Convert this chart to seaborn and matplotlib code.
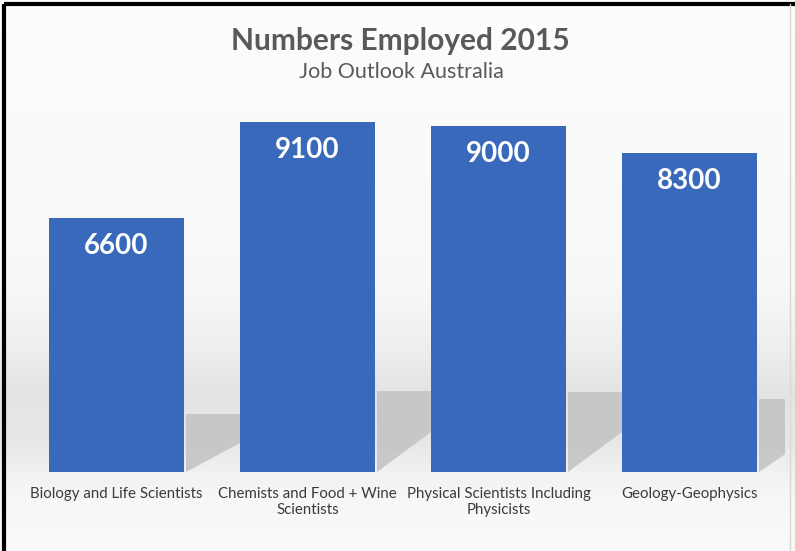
import numpy as np
import pandas as pd
import matplotlib
matplotlib.use("Agg")
import matplotlib.pyplot as plt
from matplotlib.patches import Polygon
import seaborn as sns

categories = ["Biology and Life Scientists",
              "Chemists and Food + Wine\nScientists",
              "Physical Scientists Including\nPhysicists",
              "Geology-Geophysics"]
values = [6600, 9100, 9000, 8300]
title = "Numbers Employed 2015"
subtitle = "Job Outlook Australia"

sns.set_style("white")
plt.rcParams['font.family'] = ['Lato', 'DejaVu Sans']

W, H = 795, 551
fig = plt.figure(figsize=(W / 100, H / 100), dpi=100)

# background gradient
bg = fig.add_axes([0, 0, 1, 1], zorder=-2)
ys = np.arange(H)
knots_y = [0, 280, 340, 390, 440, 475, 500, 551]
knots_v = [0.99, 0.975, 0.94, 0.895, 0.905, 0.95, 0.97, 0.98]
prof = np.interp(ys, knots_y, knots_v)
img = np.repeat(prof[:, None], W, axis=1)
bg.imshow(np.dstack([img, img, img]), aspect='auto', extent=[0, W, H, 0])
bg.set_xlim(0, W)
bg.set_ylim(H, 0)
bg.axis('off')
# frame lines
bg.plot([4, 4], [4, H], color='black', lw=3, solid_capstyle='butt')
bg.plot([4, W], [4, 4], color='black', lw=3, solid_capstyle='butt')
bg.plot([790, 790], [4, H], color='#d8d8d8', lw=1)

ax_b = (H - 472) / H
ax_h = 384.8 / H
ax = fig.add_axes([21 / W, ax_b, 764 / W, ax_h])
ax.set_facecolor('none')

df = pd.DataFrame({"cat": categories, "val": values})
bw = 0.71
sns.barplot(data=df, x="cat", y="val", color="#3869BA", saturation=1,
            width=bw, ax=ax, zorder=3, linewidth=0, edgecolor='none')

ax.set_xlim(-0.5, 3.5)
ax.set_ylim(0, 10000)

# shadows
for i, v in enumerate(values):
    r = i + bw / 2 + 0.01
    h = v * 0.23
    w = 0.28
    poly = Polygon([(r, 0), (r, h), (r + w, h), (r + w, h * 0.5)],
                   closed=True, facecolor='#c2c2c2', edgecolor='none',
                   alpha=0.85, zorder=2, clip_on=True)
    ax.add_patch(poly)

for i, v in enumerate(values):
    ax.annotate(f"{v}", (i, v), xytext=(0, -28), textcoords='offset pixels',
                ha='center', va='center', color='white', fontsize=20,
                fontweight='bold', zorder=5)

ax.set_xlabel("")
ax.set_ylabel("")
ax.set_yticks([])
ax.tick_params(axis='x', length=0, pad=11, labelsize=10.8, labelcolor='#3a3a3a')
for s in ax.spines.values():
    s.set_visible(False)

fig.text(400 / W, 1 - 41 / H, title, ha='center', va='center',
         fontsize=21.5, fontweight='bold', color='#595959')
fig.text(401 / W, 1 - 72 / H, subtitle, ha='center', va='center',
         fontsize=15.5, color='#595959')

fig.savefig("out.png", dpi=100)
